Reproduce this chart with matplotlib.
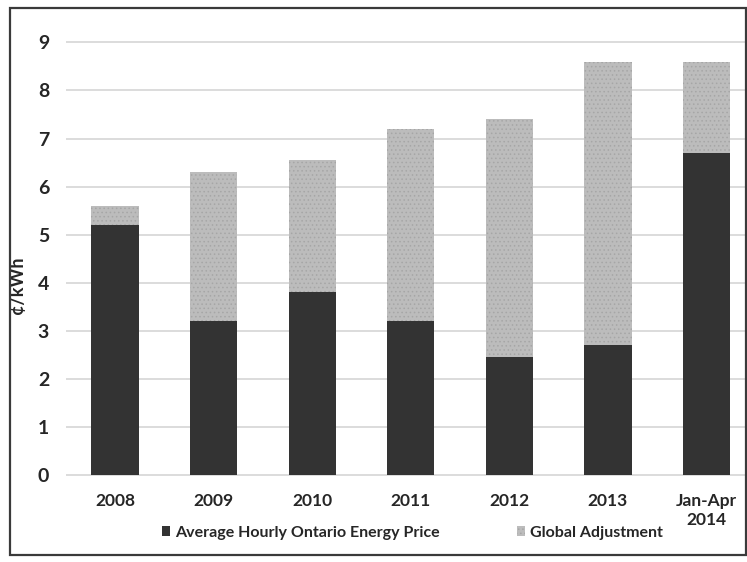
import matplotlib.pyplot as plt
from matplotlib.patches import Rectangle

plt.rcParams['font.family'] = ['Lato', 'DejaVu Sans']
plt.rcParams['hatch.linewidth'] = 0.6

periods = ['2008', '2009', '2010', '2011', '2012', '2013', 'Jan-Apr\n2014']
energy_price = [5.2, 3.2, 3.8, 3.2, 2.45, 2.7, 6.7]
global_adjustment = [0.4, 3.1, 2.75, 4.0, 4.95, 5.9, 1.9]
y_ticks = [0, 1, 2, 3, 4, 5, 6, 7, 8, 9]

dark = '#333333'
light = '#bcbcbc'
text_color = '#262626'

fig = plt.figure(figsize=(7.47, 5.62), dpi=100)
ax = fig.add_axes([0.088, 0.150, 0.912, 0.779])

x = list(range(len(periods)))
ax.bar(x, energy_price, width=0.48, color=dark, linewidth=0,
       label='Average Hourly Ontario Energy Price', zorder=3)
ax.bar(x, global_adjustment, width=0.48, bottom=energy_price, color=light,
       edgecolor='#a6a6a6', hatch='....', linewidth=0,
       label='Global Adjustment', zorder=3)

ax.set_xlim(-0.5, 6.41)
ax.set_ylim(-0.05, 9.05)
ax.set_yticks(y_ticks)
ax.set_xticks(x)
ax.set_xticklabels(periods, fontsize=12.5, fontweight='bold', color=text_color,
                   linespacing=1.2)
ax.set_yticklabels([str(v) for v in y_ticks], fontsize=14, fontweight='bold',
                   color=text_color)
ax.tick_params(axis='both', length=0)
ax.tick_params(axis='y', pad=12)
ax.tick_params(axis='x', pad=11)

ax.grid(axis='y', color='#d9d9d9', linewidth=1.3, zorder=0)
ax.set_axisbelow(True)
for side in ax.spines.values():
    side.set_visible(False)

ax.set_ylabel('¢/kWh', fontsize=13, fontweight='bold', color=text_color)
ax.yaxis.set_label_coords(-0.058, 0.44)

leg = fig.legend(loc='center', bbox_to_anchor=(0.552, 0.052), ncol=2,
                 frameon=False, fontsize=11.5, handlelength=0.55,
                 handleheight=0.55, handletextpad=0.3, columnspacing=4.8)
for t in leg.get_texts():
    t.set_color(text_color)
    t.set_fontweight('bold')

# frame around the whole chart
fig.patches.append(Rectangle((0.014, 0.012), 0.984, 0.974,
                             transform=fig.transFigure, fill=False,
                             edgecolor='#3a3a3a', linewidth=1.6))

fig.savefig('out.png', dpi=100)
